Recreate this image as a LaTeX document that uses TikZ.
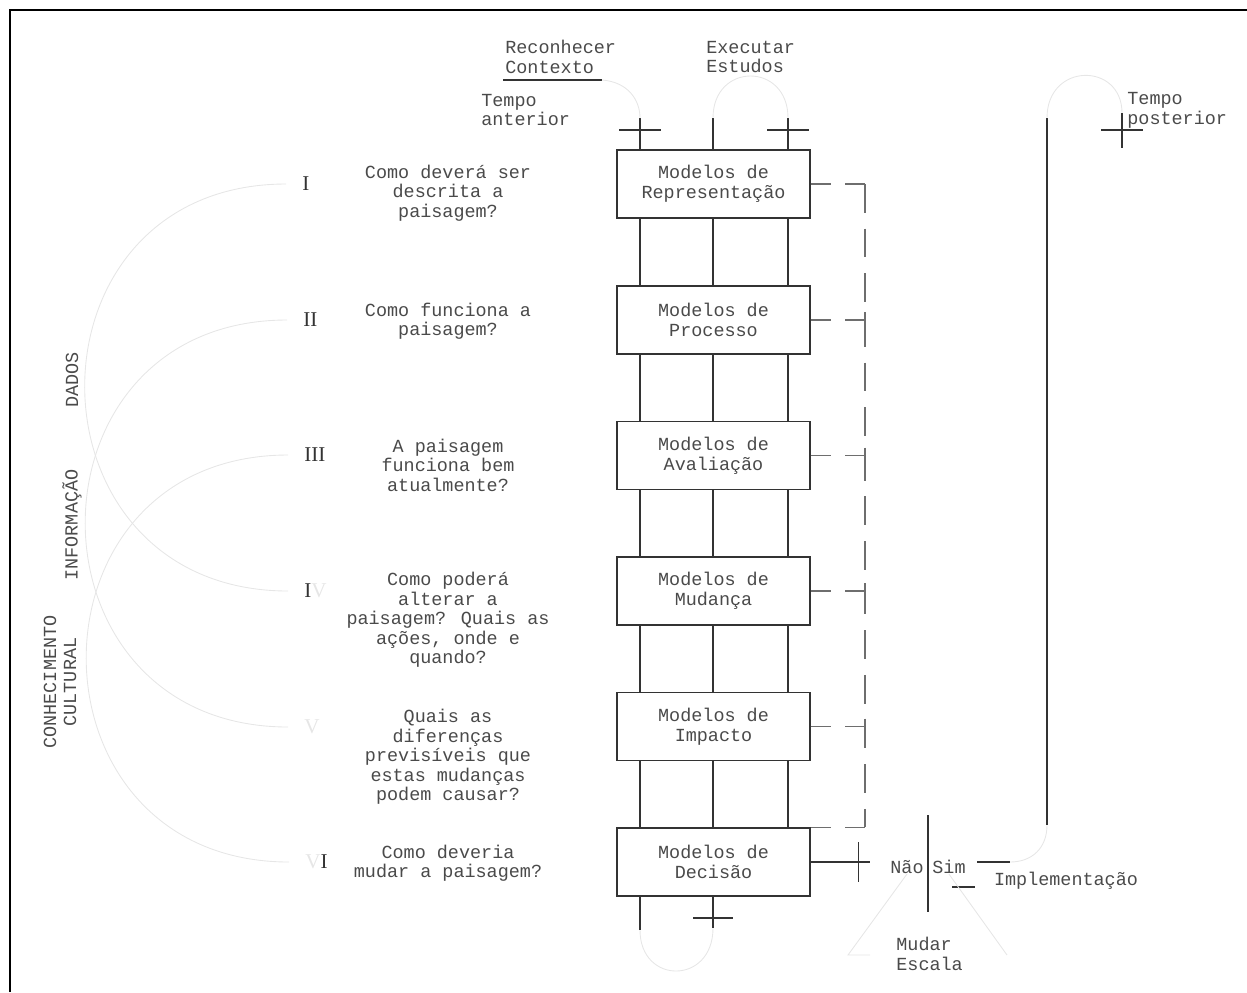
\documentclass[tikz,border=0pt]{standalone}
\usepackage{fontspec}
\setmainfont{Liberation Mono}
\newfontfamily\numfont{Liberation Serif}
\usepackage{tikz}
\usetikzlibrary{positioning}
\definecolor{ink}{HTML}{333333}
\definecolor{dashink}{HTML}{6E6E6E}
\definecolor{faint}{HTML}{E6E6E6}
\definecolor{txt}{HTML}{4A4A4A}
\tikzset{
  modelbox/.style={
    rectangle, draw=ink, line width=0.8pt,
    minimum width=3.86cm, minimum height=1.36cm,
    font=\fontsize{10.5}{11.2}\selectfont, text=txt, align=center,
    inner sep=0pt
  },
  question/.style={
    font=\fontsize{10.5}{11.1}\selectfont, text=txt, align=center,
    inner sep=0pt
  },
  lbl/.style={
    font=\fontsize{10.5}{11.3}\selectfont, text=txt, inner sep=0pt
  },
  numeral/.style={
    font=\numfont\fontsize{12}{12}\selectfont, text=ink,
    inner sep=0pt, anchor=west
  },
  flow/.style={draw=ink, line width=0.8pt},
  frame/.style={draw=black, line width=0.8pt},
  stub/.style={draw=dashink, line width=0.8pt,
    dash pattern=on 11.3pt off 8.5pt},
  feedback/.style={draw=dashink, line width=0.8pt,
    dash pattern=on 16.4pt off 9pt},
  arcline/.style={draw=faint, line width=0.5pt},
}
\begin{document}
\begin{tikzpicture}[x=0.02cm, y=-0.02cm]
  \useasboundingbox (0,0) rectangle (1247,992);
  \draw[frame] (10,992) -- (10,10) -- (1247,10);

  % model places
  \foreach \i/\y/\txt in {1/184/Representação, 2/320/Processo,
      3/455.5/Avaliação, 4/591/Mudança, 5/726.5/Impacto, 6/862/Decisão}
    \node[modelbox] (m\i) at (713.5,\y) {Modelos de\\\txt};

  % columns
  \coordinate (tl) at (640,118);
  \coordinate (tc) at (713,118);
  \coordinate (tr) at (788,118);
  \foreach \c in {tl,tc,tr}
    \draw[flow] (\c) -- (m1.north -| \c);
  \foreach \i/\j in {1/2,2/3,3/4,4/5,5/6}
    \foreach \c in {tl,tc,tr}
      \draw[flow] (m\i.south -| \c) -- (m\j.north -| \c);
  \draw[flow] (tl) ++(0,12) +(-21,0) -- +(21,0);
  \draw[flow] (tr) ++(0,12) +(-21,0) -- +(21,0);

  \coordinate (bl) at (640,930);
  \coordinate (bc) at (713,928);
  \draw[flow] (m6.south -| bl) -- (bl);
  \draw[flow] (m6.south -| bc) -- (bc);
  \draw[flow] (bc) ++(0,-10) +(-20,0) -- +(20,0);

  % feedback (dashed)
  \coordinate (fb) at (865,0);
  \draw[stub] (m1.east) -- (m1.east -| fb);
  \draw[feedback] (m1.east -| fb) -- (m6.north -| fb);
  \foreach \i in {2,...,5} {
    \draw[stub] (m\i.east) -- (m\i.east -| fb);
    \draw[flow, draw=dashink] (m\i.east -| fb) +(0,-8) -- +(0,20);
  }
  \draw[stub] (m6.north east) -- (m6.north -| fb);

  % decision
  \coordinate (dx) at (870,862);
  \draw[flow] (m6.east) -- (dx);
  \draw[flow] (m6.east) ++(48,0) +(0,-20) -- +(0,20);
  \coordinate (da) at (928,815);
  \coordinate (db) at (928,912);
  \draw[flow] (da) -- (db);
  \node[lbl] (nao) at (907,867) {Não};
  \node[lbl] (sim) at (949,867) {Sim};
  \coordinate (ia) at (977,862);
  \coordinate (ib) at (1010,862);
  \draw[flow] (ia) -- (ib);
  \coordinate (ea) at (952,887);
  \coordinate (eb) at (975,887);
  \draw[flow] (ea) -- (eb);
  \node[lbl] (impl) at (1066,881) {Implementação};
  \node[lbl, anchor=west, align=left] (esc) at (896,954) {Mudar\\Escala};
  \draw[arcline] (nao.south) -- (848,955) -- (870,955);
  \draw[arcline] (sim.south) -- (1007,955);

  % time line on the right
  \coordinate (vt) at (1047,118);
  \coordinate (vb) at (1047,825);
  \coordinate (tp) at (1122,130);
  \draw[flow] (vt) -- (vb);
  \draw[arcline] (vb) .. controls (1047,848) and (1032,862) .. (ib);
  \draw[arcline] (vt) .. controls (1047,62) and (1122,62) .. (1122,113);
  \draw[flow] (tp) +(-21,0) -- +(21,0);
  \draw[flow] (tp) +(0,-17) -- +(0,18);
  \node[lbl, anchor=west, align=left] (tpost) at (1127,110) {Tempo\\posterior};

  % top labels
  \node[lbl, anchor=west, align=left] (rc) at (505,57) {Reconhecer\\Contexto};
  \draw[flow] (503,80) -- (602,80);
  \node[lbl, anchor=west, align=left] (ee) at (706,57) {Executar\\Estudos};
  \node[lbl, anchor=west, align=left] (tant) at (481,110) {Tempo\\anterior};
  \draw[arcline] (602,80) .. controls (628,82) and (640,100) .. (tl);
  \draw[arcline] (tc) .. controls (713,62) and (788,62) .. (tr);
  \draw[arcline] (bl) .. controls (640,985) and (713,985) .. (bc);

  % questions
  \node[question] (q1) at (448,193) {Como deverá ser\\descrita a\\paisagem?};
  \node[question] (q2) at (448,321) {Como funciona a\\paisagem?};
  \node[question] (q3) at (448,465) {A paisagem\\funciona bem\\atualmente?};
  \node[question] (q4) at (448,620) {Como poderá\\alterar a\\paisagem? Quais as\\ações, onde e\\quando?};
  \node[question] (q5) at (448,757) {Quais as\\diferenças\\previsíveis que\\estas mudanças\\podem causar?};
  \node[question] (q6) at (448,863) {Como deveria\\mudar a paisagem?};

  % numerals
  \node[numeral] (r1) at (302,184) {I};
  \node[numeral] (r2) at (303,320) {II};
  \node[numeral] (r3) at (304,455) {III};
  \node[numeral] (r4) at (304,591) {I{\color{faint}V}};
  \node[numeral] (r5) at (304,727) {\color{faint}V};
  \node[numeral] (r6) at (305,862) {{\color{faint}V}I};
  \foreach \i/\j in {1/4,2/5,3/6}
    \draw[arcline] ([xshift=-9pt]r\i.west) .. controls +(-270,0) and +(-270,0) .. ([xshift=-9pt]r\j.west);

  % left labels
  \node[lbl, rotate=90] (dados) at (72,380) {DADOS};
  \node[lbl, rotate=90] (info) at (72,525) {INFORMAÇÃO};
  \node[lbl, rotate=90, align=center] (conh) at (60,682) {CONHECIMENTO\\CULTURAL};
\end{tikzpicture}
\end{document}
